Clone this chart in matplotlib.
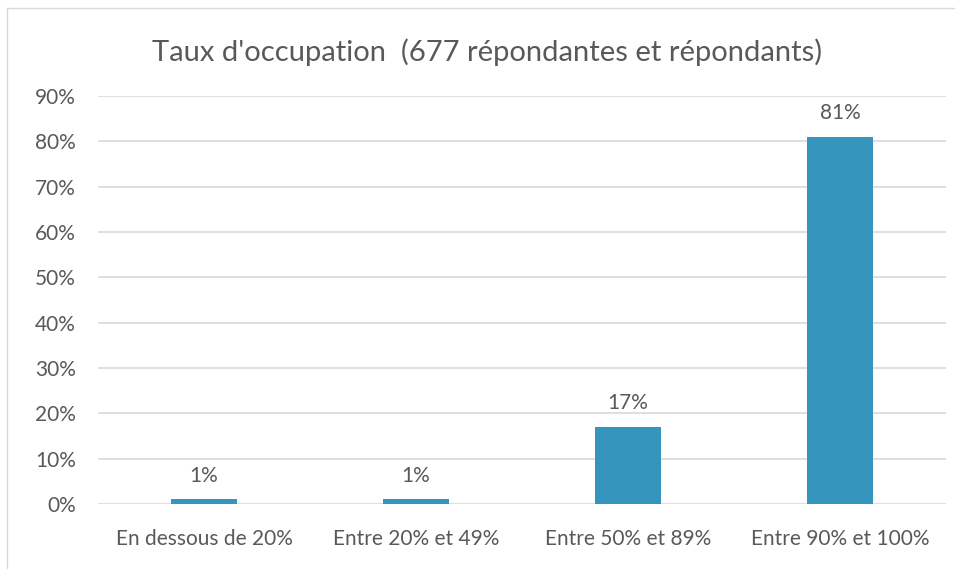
import matplotlib

matplotlib.use("Agg")
import matplotlib.pyplot as plt
from matplotlib.lines import Line2D
from matplotlib.ticker import FuncFormatter, MultipleLocator

categories = ["En dessous de 20%", "Entre 20% et 49%", "Entre 50% et 89%", "Entre 90% et 100%"]
values = [0.01, 0.01, 0.17, 0.81]
value_labels = ["1%", "1%", "17%", "81%"]
title = "Taux d'occupation  (677 répondantes et répondants)"

TEXT = "#595959"
GRID = "#D9D9D9"
BAR = "#3595BD"

plt.rcParams["font.family"] = ["Lato", "DejaVu Sans"]

fig = plt.figure(figsize=(9.55, 5.69), dpi=100)
ax = fig.add_axes([98 / 955, 1 - 504 / 569, 848 / 955, 408 / 569])

x = list(range(len(categories)))
ax.bar(x, values, width=0.31, color=BAR, zorder=3)
for xi, v, lab in zip(x, values, value_labels):
    ax.annotate(lab, (xi, v), textcoords="offset points", xytext=(0, 10),
                ha="center", va="bottom", fontsize=15, color=TEXT)

ax.set_xlim(-0.5, 3.5)
ax.set_ylim(0, 0.9)
ax.yaxis.set_major_locator(MultipleLocator(0.1))
ax.yaxis.set_major_formatter(FuncFormatter(lambda v, _: f"{round(v * 100)}%"))
ax.set_xticks(x)
ax.set_xticklabels(categories)
ax.tick_params(axis="both", length=0, labelsize=15, labelcolor=TEXT)
ax.tick_params(axis="x", pad=18)
ax.tick_params(axis="y", pad=16)
ax.grid(axis="y", color=GRID, linewidth=1.2, zorder=0)
for s in ax.spines.values():
    s.set_visible(False)

fig.text(487 / 955, 1 - 52 / 569, title, ha="center", va="center", fontsize=21, color=TEXT)

# cadre du graphique (coin haut-gauche visible)
fig.add_artist(Line2D([7 / 955, 1], [1 - 8 / 569] * 2, color=GRID, linewidth=1, transform=fig.transFigure))
fig.add_artist(Line2D([7 / 955] * 2, [0, 1 - 8 / 569], color=GRID, linewidth=1, transform=fig.transFigure))

fig.savefig("out.png", dpi=100)
